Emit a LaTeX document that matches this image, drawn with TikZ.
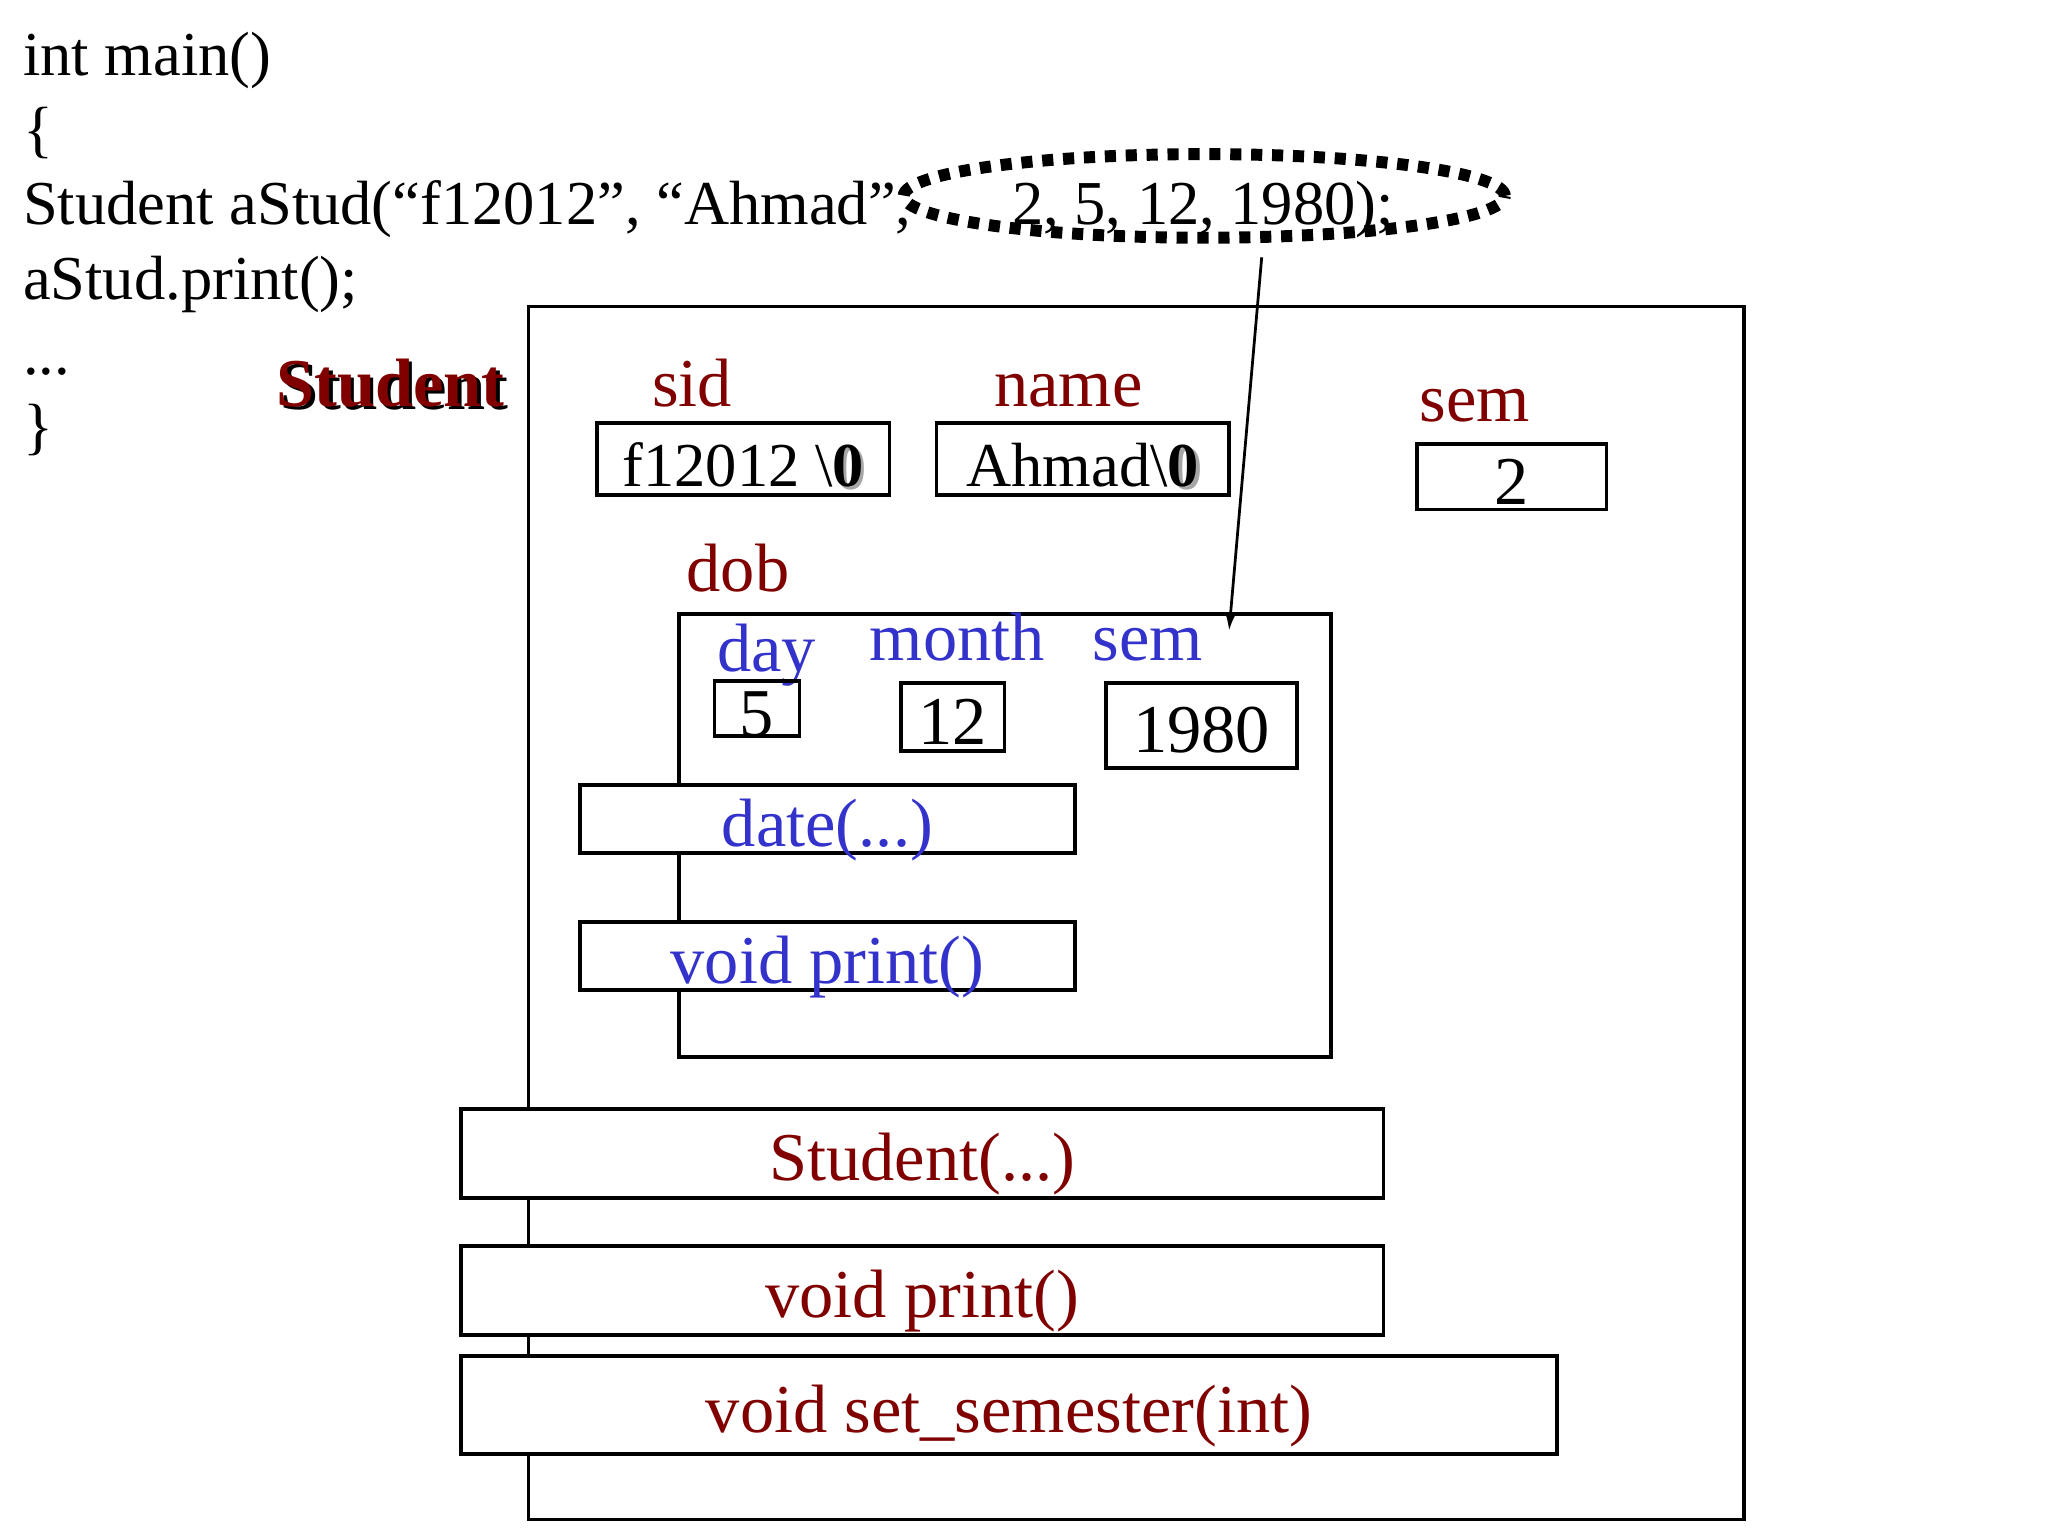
\documentclass[tikz,border=0pt]{standalone}
\usepackage{fontspec}
\setmainfont{Liberation Serif}
\usetikzlibrary{shapes.geometric,arrows.meta}

\definecolor{darkred}{RGB}{128,0,0}
\definecolor{memberblue}{RGB}{51,51,204}

\newcommand{\codefont}{\fontsize{13.6}{16.3}\selectfont}
\newcommand{\namefont}{\fontsize{14.9}{17.9}\selectfont}
\newcommand{\shadowzero}{\rlap{\kern0.7pt\raisebox{-0.7pt}{\textcolor{black!35}{\bfseries 0}}}{\bfseries 0}}
\newcommand{\shadowed}[1]{\rlap{\kern0.8pt\raisebox{-0.8pt}{\textcolor{black}{#1}}}\textcolor{darkred}{#1}}

\tikzset{
	field/.style={draw, line width=0.8pt, fill=white, inner sep=0pt, font=\codefont, text height=0.42cm, text depth=0pt},
	datefield/.style={field, font=\namefont},
	redmethod/.style={field, text=darkred, font=\namefont},
	bluemethod/.style={field, text=memberblue, font=\namefont},
	redname/.style={anchor=base, text=darkred, font=\namefont, inner sep=0pt},
	bluename/.style={anchor=base, text=memberblue, font=\namefont, inner sep=0pt},
	codeline/.style={anchor=base west, font=\codefont, inner sep=0pt},
	pointer/.style={-{Latex[length=0.14cm,width=0.09cm]}, line width=0.6pt}
}

\begin{document}
\begin{tikzpicture}[x=0.01cm, y=-0.01cm]
		\useasboundingbox (0,0) rectangle (1568,1176);

		\node[codeline] (main) at (17,58) {int main()};
		\node[codeline] (open) at (17,115) {\{};
		\node[codeline] (decl) at (17,172) {Student aStud(“f12012”, “Ahmad”,};
		\node[codeline] (call) at (17,229) {aStud.print();};
		\node[codeline] (dots) at (17,287) {...};
		\node[codeline] (close) at (17,343) {\}};

		\node[anchor=base, font=\codefont, inner sep=0pt] (args) at (921,172) {2, 5, 12, 1980);};
		\node[ellipse, draw, line width=2.6pt, dash pattern=on 0.085cm off 0.075cm, minimum width=4.6cm, minimum height=0.64cm, inner sep=0pt] (argring) at (922,150) {};

		\node[draw, line width=0.8pt, minimum width=9.30cm, minimum height=9.28cm, inner sep=0pt] (studentbox) at (870,699) {};
		\node[anchor=base east, font=\namefont\bfseries, inner sep=0pt] (studentname) at (387,311) {\shadowed{Student}};

		\node[redname] (sidname) at (530,311) {sid};
		\node[redname] (namename) at (818,311) {name};
		\node[redname] (semname) at (1129,323) {sem};
		\node[redname] (dobname) at (565,453) {dob};

		\node[field, minimum width=2.24cm, minimum height=0.55cm] (sid) at (569,351.5) {f12012 \textbackslash\shadowzero};
		\node[field, minimum width=2.24cm, minimum height=0.55cm] (name) at (829,351.5) {Ahmad\textbackslash\shadowzero};
		\node[datefield, minimum width=1.45cm, minimum height=0.50cm] (sem) at (1157.5,365) {2};

		\node[draw, line width=0.8pt, minimum width=4.99cm, minimum height=3.39cm, inner sep=0pt] (dob) at (769.5,639.5) {};

		\node[bluename] (dayname) at (587,514) {day};
		\node[bluename] (monthname) at (733,506) {month};
		\node[bluename] (yearname) at (879,506) {sem};

		\node[datefield, fill=none, minimum width=0.65cm, minimum height=0.39cm] (day) at (579.5,542.5) {5};
		\node[datefield, minimum width=0.79cm, minimum height=0.52cm] (month) at (729.5,549) {12};
		\node[datefield, minimum width=1.46cm, minimum height=0.65cm] (year) at (920,555.5) {1980};

		\node[bluemethod, minimum width=3.79cm, minimum height=0.52cm] (datefn) at (633.5,627) {date(...)};
		\node[bluemethod, minimum width=3.79cm, minimum height=0.52cm] (dateprint) at (633.5,732) {void print()};

		\node[redmethod, minimum width=7.06cm, minimum height=0.68cm] (ctor) at (706,883) {Student(...)};
		\node[redmethod, minimum width=7.06cm, minimum height=0.68cm] (print) at (706,988) {void print()};
		\node[redmethod, minimum width=8.39cm, minimum height=0.75cm] (setsem) at (772.5,1075.5) {void set\_semester(int)};

		\coordinate (argtail) at (966,197);
		\coordinate (yearhead) at (941,483);
		\draw[pointer] (argtail) -- (yearhead);

	\end{tikzpicture}
\end{document}
